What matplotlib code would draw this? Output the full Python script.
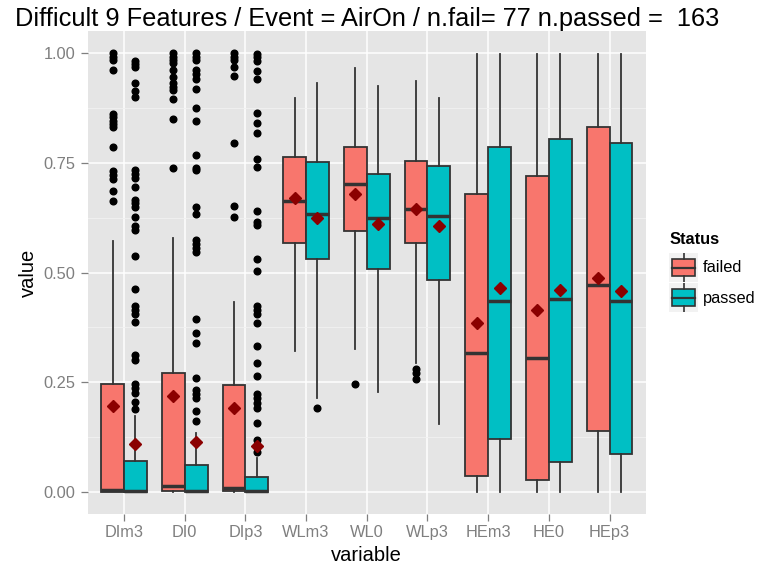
import matplotlib.pyplot as plt
from matplotlib.patches import Rectangle

plt.rcParams['font.family'] = ['Liberation Sans', 'DejaVu Sans']

variables = ['DIm3', 'DI0', 'DIp3', 'WLm3', 'WL0', 'WLp3', 'HEm3', 'HE0', 'HEp3']
statuses = ['failed', 'passed']
colors = {'failed': '#F8766D', 'passed': '#00BFC4'}

# box statistics, one value per variable
failed_q1 = [0.000, 0.002, 0.001, 0.567, 0.595, 0.567, 0.036, 0.027, 0.139]
failed_med = [0.004, 0.013, 0.008, 0.663, 0.701, 0.645, 0.316, 0.306, 0.471]
failed_q3 = [0.246, 0.270, 0.244, 0.763, 0.786, 0.754, 0.679, 0.721, 0.831]
failed_lo = [0.000, 0.000, 0.000, 0.322, 0.326, 0.293, 0.000, 0.000, 0.000]
failed_hi = [0.571, 0.578, 0.432, 0.897, 0.967, 0.936, 0.998, 0.998, 0.998]
failed_mean = [0.196, 0.219, 0.191, 0.669, 0.679, 0.646, 0.384, 0.414, 0.487]
failed_out = [
    [1.0, 0.992, 0.985, 0.963, 0.862, 0.854, 0.846, 0.839, 0.831, 0.787,
     0.732, 0.722, 0.713, 0.686, 0.662],
    [1.0, 0.992, 0.985, 0.977, 0.962, 0.945, 0.932, 0.924, 0.916, 0.896,
     0.851, 0.739],
    [1.0, 0.992, 0.985, 0.968, 0.948, 0.795, 0.652, 0.627],
    [],
    [0.246],
    [0.279, 0.270, 0.258],
    [], [], [],
]

passed_q1 = [0.000, 0.000, 0.000, 0.531, 0.509, 0.483, 0.120, 0.067, 0.087]
passed_med = [0.001, 0.001, 0.002, 0.633, 0.624, 0.629, 0.436, 0.439, 0.436]
passed_q3 = [0.070, 0.060, 0.033, 0.751, 0.724, 0.743, 0.786, 0.805, 0.795]
passed_lo = [0.000, 0.000, 0.000, 0.214, 0.227, 0.154, 0.000, 0.000, 0.000]
passed_hi = [0.173, 0.135, 0.076, 0.932, 0.925, 0.898, 0.998, 0.998, 0.998]
passed_mean = [0.108, 0.113, 0.104, 0.624, 0.610, 0.607, 0.464, 0.460, 0.457]
passed_out = [
    [0.983, 0.976, 0.968, 0.933, 0.914, 0.901, 0.734, 0.724, 0.715, 0.696,
     0.665, 0.658, 0.650, 0.626, 0.605, 0.597, 0.538, 0.462, 0.424, 0.414,
     0.405, 0.386, 0.312, 0.300, 0.246, 0.236, 0.226, 0.205, 0.188],
    [1.0, 0.992, 0.985, 0.963, 0.953, 0.941, 0.919, 0.875, 0.845, 0.768,
     0.739, 0.734, 0.650, 0.633, 0.574, 0.565, 0.556, 0.547, 0.393, 0.363,
     0.340, 0.259, 0.232, 0.223, 0.214, 0.185, 0.162],
    [0.998, 0.991, 0.983, 0.960, 0.941, 0.865, 0.840, 0.819, 0.760, 0.741,
     0.641, 0.615, 0.608, 0.530, 0.504, 0.424, 0.414, 0.405, 0.384, 0.332,
     0.294, 0.265, 0.224, 0.213, 0.202, 0.190, 0.157, 0.118, 0.090],
    [0.190],
    [], [], [], [], [],
]

stats = {
    'failed': (failed_q1, failed_med, failed_q3, failed_lo, failed_hi, failed_mean, failed_out),
    'passed': (passed_q1, passed_med, passed_q3, passed_lo, passed_hi, passed_mean, passed_out),
}

fig = plt.figure(figsize=(7.59, 5.70), dpi=100)
ax = fig.add_axes([0.1155, 0.0989, 0.7355, 0.846])
ax.set_facecolor('#E5E5E5')

edge = '#333333'
width = 0.375
for k, st in enumerate(statuses):
    q1, med, q3, lo, hi, mn, out = stats[st]
    bxp_stats = []
    for i in range(len(variables)):
        bxp_stats.append({'q1': q1[i], 'med': med[i], 'q3': q3[i],
                          'whislo': lo[i], 'whishi': hi[i],
                          'mean': mn[i], 'fliers': out[i]})
    offset = -width / 2 if k == 0 else width / 2
    pos = [i + 1 + offset for i in range(len(variables))]
    ax.bxp(bxp_stats, positions=pos, widths=width, patch_artist=True,
           showmeans=True, showcaps=False, manage_ticks=False,
           boxprops=dict(facecolor=colors[st], edgecolor=edge, linewidth=1.3),
           whiskerprops=dict(color=edge, linewidth=1.3),
           medianprops=dict(color=edge, linewidth=2.5, solid_capstyle='butt'),
           meanprops=dict(marker='D', markerfacecolor='#8B0000',
                          markeredgecolor='#8B0000', markersize=6.3),
           flierprops=dict(marker='o', markerfacecolor='black',
                           markeredgecolor='black', markersize=4.8))

ax.set_xlim(0.4, 9.6)
ax.set_ylim(-0.05, 1.05)
ax.set_xticks(range(1, len(variables) + 1))
ax.set_xticklabels(variables)
ax.set_yticks([0, 0.25, 0.5, 0.75, 1.0])
ax.set_yticklabels(['0.00', '0.25', '0.50', '0.75', '1.00'])
ax.set_yticks([0.125, 0.375, 0.625, 0.875], minor=True)
ax.grid(True, which='major', color='white', linewidth=1.1)
ax.grid(True, which='minor', axis='y', color='#F2F2F2', linewidth=0.6)
ax.set_axisbelow(True)
for s in ax.spines.values():
    s.set_visible(False)
ax.tick_params(which='major', length=5, color='#7F7F7F', labelcolor='#7F7F7F',
               labelsize=11.8, width=0.9)
ax.tick_params(axis='x', pad=3.5)
ax.tick_params(axis='y', pad=4)
ax.tick_params(which='minor', length=0)
ax.set_xlabel('variable', fontsize=14.5, labelpad=4)
ax.set_ylabel('value', fontsize=14.5, labelpad=4)
ax.set_title('Difficult 9 Features / Event = AirOn / n.fail= 77 n.passed =  163',
             fontsize=18.3, pad=3.5)

# legend
fig.text(670 / 759, 1 - 240 / 570, 'Status', fontsize=11.8, fontweight='bold',
         va='center', ha='left')
for k, st in enumerate(statuses):
    top = 253 + k * 30
    kax = fig.add_axes([669 / 759, 1 - (top + 29) / 570, 29 / 759, 29 / 570])
    kax.set_xlim(0, 1)
    kax.set_ylim(0, 1)
    kax.axis('off')
    kax.add_patch(Rectangle((0, 0), 1, 1, facecolor='#F2F2F2', edgecolor='none'))
    kax.plot([0.5, 0.5], [0, 0.2], color=edge, lw=1.2)
    kax.plot([0.5, 0.5], [0.8, 1], color=edge, lw=1.2)
    kax.add_patch(Rectangle((0.1, 0.2), 0.8, 0.6, facecolor=colors[st],
                            edgecolor=edge, lw=1.2))
    kax.plot([0.1, 0.9], [0.5, 0.5], color=edge, lw=1.6)
    fig.text(703 / 759, 1 - (top + 15) / 570, st, fontsize=11.8,
             va='center', ha='left')

fig.savefig('out.png', dpi=100)
